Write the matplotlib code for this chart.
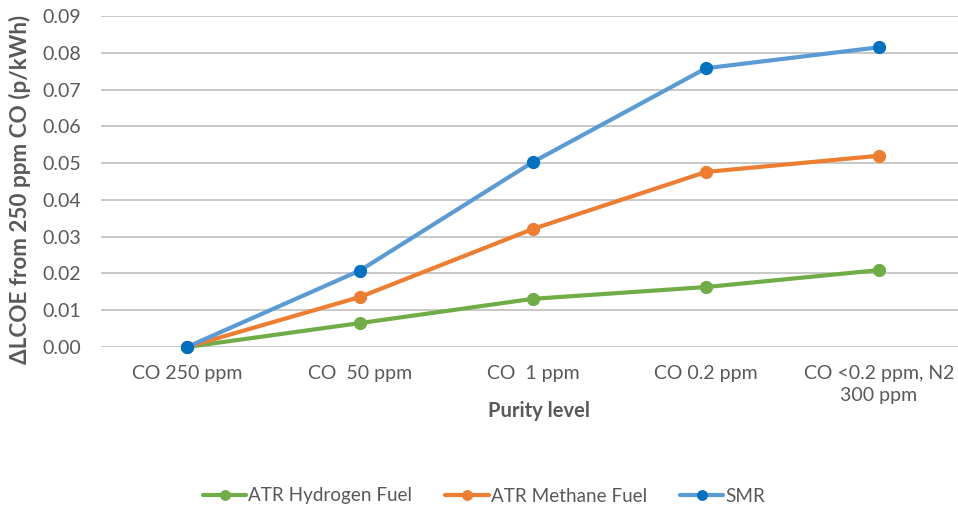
import matplotlib.pyplot as plt
import numpy as np

# data
categories = ["CO 250 ppm", "CO  50 ppm", "CO  1 ppm", "CO 0.2 ppm",
              "CO <0.2 ppm, N2\n300 ppm"]
atr_hydrogen = [0.0, 0.0065, 0.0131, 0.0163, 0.0209]
atr_methane = [0.0, 0.0136, 0.0321, 0.0476, 0.0520]
smr = [0.0, 0.0208, 0.0503, 0.0758, 0.0815]
y_ticks = [0.00, 0.01, 0.02, 0.03, 0.04, 0.05, 0.06, 0.07, 0.08, 0.09]

plt.rcParams["font.family"] = ["Lato", "DejaVu Sans"]
text_color = "#595959"

fig = plt.figure(figsize=(9.58, 5.12), dpi=100)
# plot area runs a little past the right edge, as in the reference
ax = fig.add_axes([100.5 / 958, 1 - 347 / 512, 865 / 958, 331 / 512])

x = np.arange(len(categories))
series = [
    ("ATR Hydrogen Fuel", atr_hydrogen, "#70AD47", "#70AD47"),
    ("ATR Methane Fuel", atr_methane, "#ED7D31", "#ED7D31"),
    ("SMR", smr, "#5B9BD5", "#0070C0"),
]
for name, vals, line_c, mark_c in series:
    ax.plot(x, vals, color=line_c, lw=3, marker="o", markersize=8.5,
            markerfacecolor=mark_c, markeredgecolor=mark_c, label=name,
            solid_capstyle="round", clip_on=False)

ax.set_xlim(-0.5, 4.5)
ax.set_ylim(0, 0.09)
ax.set_yticks(y_ticks)
ax.set_yticklabels([f"{v:.2f}" for v in y_ticks])
ax.set_xticks(x)
ax.set_xticklabels(categories, linespacing=1.35)
ax.grid(axis="y", color="#BFBFBF", lw=1.2)
ax.set_axisbelow(True)
for s in ax.spines.values():
    s.set_visible(False)
ax.tick_params(length=0, labelsize=14, colors=text_color)
ax.tick_params(axis="y", pad=14)
ax.tick_params(axis="x", pad=13)

fig.text(20 / 958, 1 - 189 / 512, "ΔLCOE from 250 ppm CO (p/kWh)",
         rotation=90, ha="center", va="center", fontsize=16.2,
         fontweight="bold", color=text_color)
fig.text(539 / 958, 1 - 411 / 512, "Purity level", ha="center", va="center",
         fontsize=14.5, fontweight="bold", color=text_color)

fig.legend(loc="center", bbox_to_anchor=(484 / 958, 1 - 496 / 512), ncol=3,
           frameon=False, fontsize=13.6, handlelength=2.3, handletextpad=0.1,
           columnspacing=1.75, labelcolor=text_color, markerscale=0.8)

fig.savefig("out.png", dpi=100)
